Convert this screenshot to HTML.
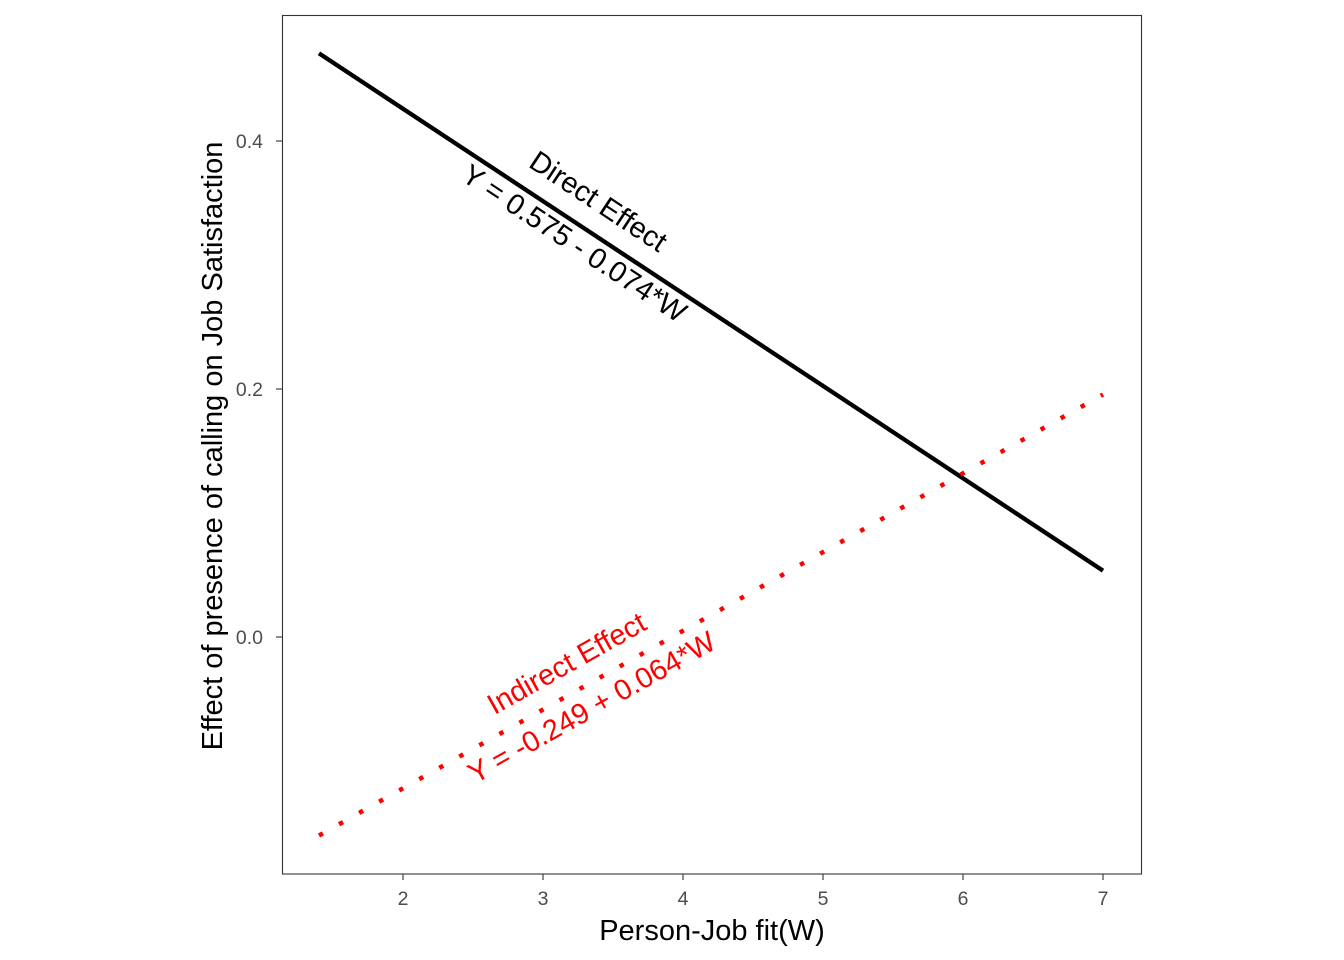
<!DOCTYPE html>
<html><head><meta charset="utf-8"><style>
html,body{margin:0;padding:0;background:#fff;}
svg{display:block;font-family:"Liberation Sans",Arial,sans-serif;}
</style></head><body>
<svg id="chart" width="1344" height="960">
<rect x="0" y="0" width="1344" height="960" fill="#fff"/>
<g id="plot"></g>
</svg>
<script>
const xTicks = [2, 3, 4, 5, 6, 7];
const yTicks = [0.0, 0.2, 0.4];
const yTickLabels = ["0.0", "0.2", "0.4"];
const wRange = [1.4, 7];
const directCoef = [0.575, -0.0745];
const indirectCoef = [-0.249, 0.0635];

const NS = "http://www.w3.org/2000/svg";
const g = document.getElementById('plot');
function xs(v){ return 403 + (v - 2) * 140; }
function ys(v){ return 637 - v * 1240; }
function mk(tag, attrs, parent){
  const e = document.createElementNS(NS, tag);
  for (const k in attrs) e.setAttribute(k, attrs[k]);
  (parent || g).appendChild(e);
  return e;
}
const panel = mk('rect', {x:282.5, y:15.5, width:859, height:858.5, fill:'none', stroke:'#333', 'stroke-width':1.1});



xTicks.forEach(t => {
  const l = mk('line', {x1:xs(t), x2:xs(t), y1:874, y2:880, stroke:'#333', 'stroke-width':1.1});
  
  
  const tx = mk('text', {x:xs(t), y:905, 'font-size':19.5, fill:'#4d4d4d', 'text-anchor':'middle'});
  tx.textContent = String(t);
  
  
});
yTicks.forEach((t, i) => {
  const l = mk('line', {x1:276, x2:282, y1:ys(t), y2:ys(t), stroke:'#333', 'stroke-width':1.1});
  
  
  const tx = mk('text', {x:263, y:ys(t) + 7, 'font-size':19.5, fill:'#4d4d4d', 'text-anchor':'end'});
  tx.textContent = yTickLabels[i];
  
  
});

function line(coef, attrs){
  return mk('line', Object.assign({
    x1: xs(wRange[0]), y1: ys(coef[0] + coef[1] * wRange[0]),
    x2: xs(wRange[1]), y2: ys(coef[0] + coef[1] * wRange[1])
  }, attrs));
}
const dl = line(directCoef, {stroke:'#000', 'stroke-width':4.3});


const il = line(indirectCoef, {stroke:'#ff0000', 'stroke-width':4.5, 'stroke-dasharray':'4.5 18.5'});



function label(txt, cx, cy, ang, color, name){
  const t = mk('text', {x:cx, y:cy, 'font-size':29, fill:color, 'text-anchor':'middle', 'dominant-baseline':'central', transform:`rotate(${ang} ${cx} ${cy})`});
  t.textContent = txt;
  
  
}
const aD = Math.atan(-directCoef[1] * 1240 / 140) * 180 / Math.PI;
const aI = -Math.atan(indirectCoef[1] * 1240 / 140) * 180 / Math.PI;
label('Direct Effect', 598, 202, aD, '#000', 'direct-effect-label');
label('Y = 0.575 - 0.074*W', 574, 244, aD, '#000', 'direct-effect-equation');
label('Indirect Effect', 567, 664, aI, '#ff0000', 'indirect-effect-label');
label('Y = -0.249 + 0.064*W', 592, 708, aI, '#ff0000', 'indirect-effect-equation');

const xt = mk('text', {x:712, y:940, 'font-size':29, fill:'#000', 'text-anchor':'middle'});
xt.textContent = 'Person-Job fit(W)';


const yt = mk('text', {x:222, y:446, 'font-size':29, fill:'#000', 'text-anchor':'middle', transform:'rotate(-90 222 446)'});
yt.textContent = 'Effect of presence of calling on Job Satisfaction';


</script>
</body></html>
